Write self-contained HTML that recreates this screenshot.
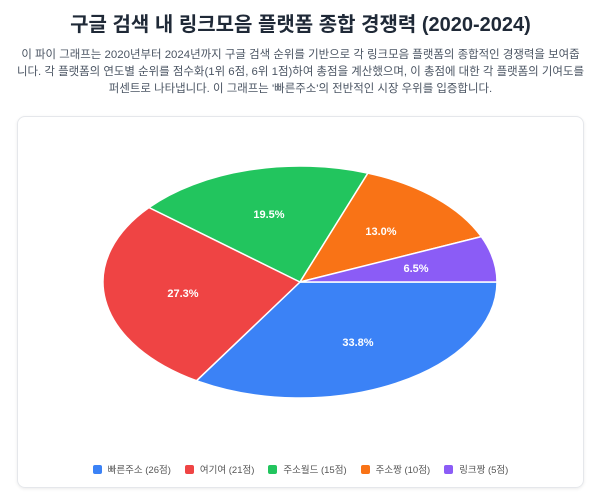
<!DOCTYPE html>
<html><head><meta charset="utf-8"><style>
body{margin:0;width:601px;height:492px;background:#fff;font-family:"Liberation Sans","Noto Sans CJK KR",sans-serif;overflow:hidden}
h1{position:absolute;top:8px;left:0;width:601px;text-align:center;margin:0;font-size:20px;font-weight:bold;color:#1f2937;font-family:"Liberation Sans","Noto Sans CJK KR",sans-serif}
p{position:absolute;top:47px;left:0;width:601px;margin:0;font-size:11.45px;line-height:17px;color:#4b5563;text-align:center;white-space:nowrap}
.card{position:absolute;left:17px;top:116px;width:565px;height:370px;border:1px solid #e5e7eb;border-radius:8px;box-shadow:0 1px 3px rgba(0,0,0,.08)}
svg{position:absolute;left:0;top:0}
.lg{position:absolute;top:462px;left:0;width:601px;display:flex;justify-content:center;gap:14px;font-size:9.5px;color:#555}
.lg span{display:flex;align-items:center}
.lg i{display:inline-block;width:9px;height:9px;border-radius:2px;margin-right:6px}
</style></head><body>
<h1>구글 검색 내 링크모음 플랫폼 종합 경쟁력 (2020-2024)</h1>
<p>이 파이 그래프는 2020년부터 2024년까지 구글 검색 순위를 기반으로 각 링크모음 플랫폼의 종합적인 경쟁력을 보여줍<br>니다. 각 플랫폼의 연도별 순위를 점수화(1위 6점, 6위 1점)하여 총점을 계산했으며, 이 총점에 대한 각 플랫폼의 기여도를<br>퍼센트로 나타냅니다. 이 그래프는 '빠른주소'의 전반적인 시장 우위를 입증합니다.</p>
<div class="card"></div>
<svg width="601" height="492">
<g stroke="#fff" stroke-width="1.5">
<path d="M300 282 L497 282 A197 116 0 0 1 196.5 380.7 Z" fill="#3b82f6"/>
<path d="M300 282 L196.5 380.7 A197 116 0 0 1 149 207.5 Z" fill="#ef4444"/>
<path d="M300 282 L149 207.5 A197 116 0 0 1 367.9 173.1 Z" fill="#22c55e"/>
<path d="M300 282 L367.9 173.1 A197 116 0 0 1 481.3 236.6 Z" fill="#f97316"/>
<path d="M300 282 L481.3 236.6 A197 116 0 0 1 497 282 Z" fill="#8b5cf6"/>
</g>
<g fill="#fff" font-size="11" font-weight="bold" text-anchor="middle" font-family="Liberation Sans,sans-serif">
<text x="358" y="346">33.8%</text>
<text x="183" y="297">27.3%</text>
<text x="269" y="218">19.5%</text>
<text x="381" y="235">13.0%</text>
<text x="416" y="272">6.5%</text>
</g>
</svg>
<div class="lg">
<span><i style="background:#3b82f6"></i>빠른주소 (26점)</span>
<span><i style="background:#ef4444"></i>여기여 (21점)</span>
<span><i style="background:#22c55e"></i>주소월드 (15점)</span>
<span><i style="background:#f97316"></i>주소짱 (10점)</span>
<span><i style="background:#8b5cf6"></i>링크짱 (5점)</span>
</div>
</body></html>
